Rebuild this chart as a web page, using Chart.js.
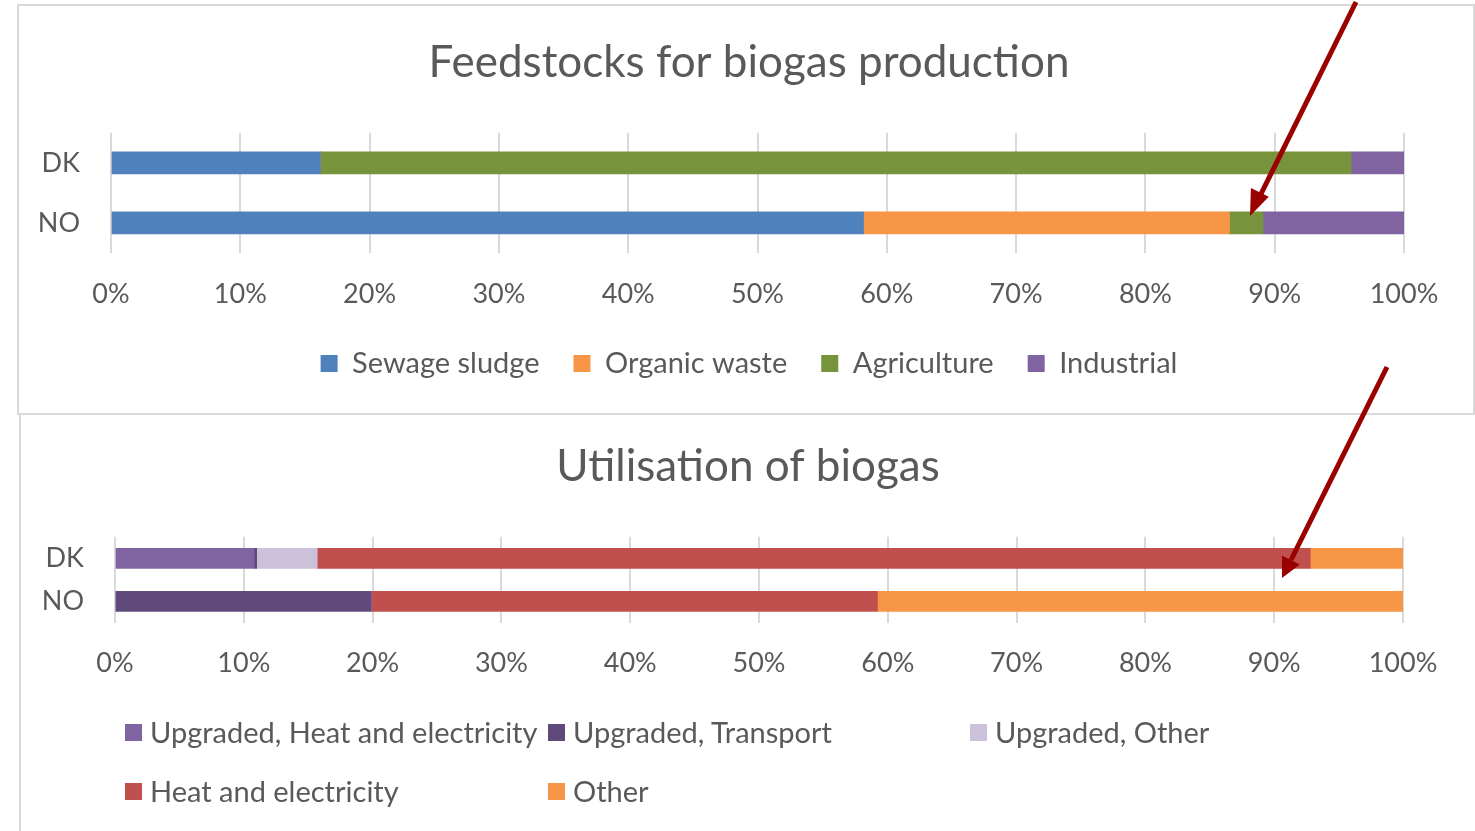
<!DOCTYPE html>
<html><head><meta charset="utf-8">
<script src="https://cdn.jsdelivr.net/npm/chart.js@4.4.1/dist/chart.umd.min.js"></script>
<style>
html,body{margin:0;padding:0;background:#fff;overflow:hidden;width:1475px;height:831px;}
#root{position:relative;width:1475px;height:831px;overflow:hidden;font-family:Lato,sans-serif;}
.panel{position:absolute;background:#fff;box-sizing:border-box;}
#p1{left:17px;top:4px;width:1458px;height:411px;border:2px solid #d9d9d9;}
#p2{left:19px;top:413px;width:1470px;height:430px;border:2px solid #d9d9d9;}
.cw{position:absolute;}
#c1w{left:18px;top:5px;width:1457px;height:409px;}
#c2w{left:20px;top:415px;width:1455px;height:416px;}
.li{position:absolute;display:flex;align-items:center;font-size:29px;line-height:34px;height:34px;color:#595959;white-space:nowrap;font-family:Lato,sans-serif;}
.sw{width:17px;height:17px;margin-right:8px;flex:none;}
#arrows{position:absolute;left:0;top:0;pointer-events:none;}
</style>
</head><body>
<div id="root">
  <div class="panel" id="p1"></div>
  <div class="panel" id="p2"></div>
  <div class="cw" id="c1w"><canvas id="c1"></canvas></div>
  <div class="cw" id="c2w"><canvas id="c2"></canvas></div>
  <svg id="arrows" width="1475" height="831">
    <line x1="1356" y1="2" x2="1259" y2="198" stroke="#9a0000" stroke-width="5"/>
    <polygon points="1250,216 1268.8,196.8 1250.9,187.9" fill="#9a0000"/>
    <line x1="1387" y1="367" x2="1291" y2="560" stroke="#9a0000" stroke-width="5"/>
    <polygon points="1282,578 1299.9,564.6 1281.9,555.6" fill="#9a0000"/>
  </svg>
</div>
<script>
// ---- data ----
const categories = ['DK', 'NO'];
const tickLabels = ['0%', '10%', '20%', '30%', '40%', '50%', '60%', '70%', '80%', '90%', '100%'];

const feedTitle = 'Feedstocks for biogas production';
const feedSeries = ['Sewage sludge', 'Organic waste', 'Agriculture', 'Industrial'];
const feedSewage = [16.2, 58.2];
const feedOrganic = [0, 28.3];
const feedAgriculture = [79.7, 2.6];
const feedIndustrial = [4.1, 10.9];

const utilTitle = 'Utilisation of biogas';
const utilSeries = ['Upgraded, Heat and electricity', 'Upgraded, Transport', 'Upgraded, Other', 'Heat and electricity', 'Other'];
const utilUpgradedHeatElec = [10.8, 0];
const utilUpgradedTransport = [0.2, 19.9];
const utilUpgradedOther = [4.7, 0];
const utilHeatElec = [77.1, 39.3];
const utilOther = [7.2, 40.8];

// ---- styles ----
const FONT = 'Lato, sans-serif';
const TXT = '#595959';
const GRID = '#d9d9d9';
const TICK_SIZE = 27;
const feedColors = ['#4f81bd', '#f79646', '#77933c', '#8064a2'];
const utilColors = ['#8064a2', '#604a7b', '#ccc1da', '#c0504d', '#f79646'];

// widest category label (for right-aligning the mirrored y labels)
const mctx = document.createElement('canvas').getContext('2d');
mctx.font = TICK_SIZE + 'px ' + FONT;
const widestCat = Math.max(...categories.map(c => mctx.measureText(c).width));

function xScale(pad, h) {
  return {
    stacked: true, min: 0, max: 100,
    ticks: { stepSize: 10, color: TXT, font: { family: FONT, size: TICK_SIZE }, padding: pad,
             callback: (v, i) => tickLabels[i] },
    grid: { color: GRID, lineWidth: 2, drawTicks: false },
    border: { display: false },
    afterFit: s => { s.height = h; }
  };
}
function yScale(w) {
  return {
    stacked: true,
    ticks: { color: TXT, font: { family: FONT, size: TICK_SIZE }, mirror: true, crossAlign: 'far',
             padding: -(31 + widestCat) },
    grid: { display: false, drawTicks: false },
    border: { display: false },
    afterFit: s => { s.width = w; }
  };
}

const feedData = [feedSewage, feedOrganic, feedAgriculture, feedIndustrial];
new Chart(document.getElementById('c1'), {
  type: 'bar',
  data: {
    labels: categories,
    datasets: feedData.map((d, i) => ({ label: feedSeries[i], data: d, backgroundColor: feedColors[i], barThickness: 22 }))
  },
  options: {
    indexAxis: 'y', responsive: true, maintainAspectRatio: false, animation: false,
    layout: { padding: { left: 76, right: 71, top: 0, bottom: 26 } },
    plugins: {
      title: { display: true, text: feedTitle, color: TXT, font: { family: FONT, size: 44, weight: 'normal' }, padding: { top: 31, bottom: 44 } },
      legend: { position: 'bottom', labels: { color: TXT, font: { family: FONT, size: 29 }, boxWidth: 17, boxHeight: 17, padding: 34 } },
      tooltip: { enabled: false }
    },
    scales: { x: xScale(25, 62), y: yScale(17) }
  }
});

const utilData = [utilUpgradedHeatElec, utilUpgradedTransport, utilUpgradedOther, utilHeatElec, utilOther];
new Chart(document.getElementById('c2'), {
  type: 'bar',
  data: {
    labels: categories,
    datasets: utilData.map((d, i) => ({ label: utilSeries[i], data: d, backgroundColor: utilColors[i], barThickness: 20 }))
  },
  options: {
    indexAxis: 'y', responsive: true, maintainAspectRatio: false, animation: false,
    layout: { padding: { left: 73, right: 72, top: 0, bottom: 150 } },
    plugins: {
      title: { display: true, text: utilTitle, color: TXT, font: { family: FONT, size: 44, weight: 'normal' }, padding: { top: 25, bottom: 44 } },
      legend: { display: false },
      tooltip: { enabled: false }
    },
    scales: { x: xScale(24, 58), y: yScale(22) }
  }
});

// HTML legend (grid layout like the original) for the second chart
const legPos = [[125, 715], [548, 715], [970, 715], [125, 774], [548, 774]];
const root = document.getElementById('root');
utilSeries.forEach((name, i) => {
  const el = document.createElement('div');
  el.className = 'li';
  el.style.left = legPos[i][0] + 'px';
  el.style.top = legPos[i][1] + 'px';
  const sw = document.createElement('span');
  sw.className = 'sw';
  sw.style.background = utilColors[i];
  const tx = document.createElement('span');
  tx.textContent = name;
  el.appendChild(sw); el.appendChild(tx);
  root.insertBefore(el, document.getElementById('arrows'));
});
</script>
</body></html>
